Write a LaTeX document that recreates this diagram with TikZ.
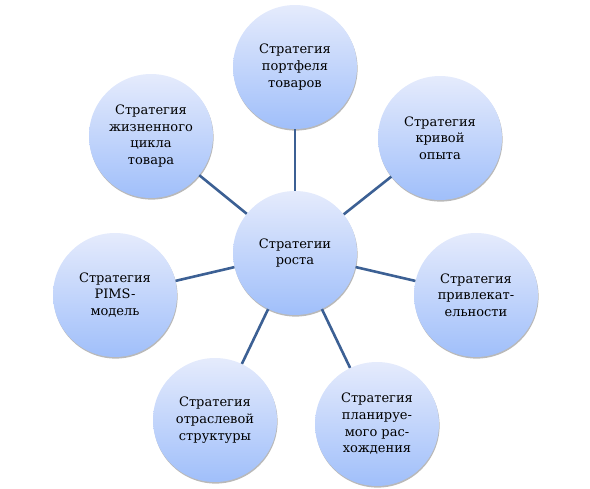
\documentclass[tikz,border=0pt]{standalone}
\usepackage{fontspec}
\setmainfont{DejaVu Serif}
\usetikzlibrary{shadows,positioning}
\definecolor{spokeblue}{RGB}{60,96,148}
\definecolor{balltop}{RGB}{229,235,252}
\definecolor{ballbottom}{RGB}{160,191,250}
\tikzset{
%Define style for the circles
ball/.style={circle, minimum size=124pt, inner sep=0pt, align=center,
  top color=balltop, bottom color=ballbottom,
  general shadow={fill=black!50, shadow yshift=-1.6pt, shadow xshift=0.6pt, opacity=0.55},
  font=\fontsize{13}{16.7}\selectfont},
%Define style for the connecting lines
spoke/.style={spokeblue, line width=2.6pt},
}

\begin{document}
\begin{tikzpicture}[x=1pt, y=-1pt]
    \useasboundingbox (0,0) rectangle (590,489);
    %Centres of the circles (picture coordinates, y downwards)
    \coordinate (cgrowth) at (295,253);
    \coordinate (cportfolio) at (295,67);
    \coordinate (ccurve) at (440,138);
    \coordinate (cattract) at (476,295);
    \coordinate (cdiverge) at (377,424);
    \coordinate (cindustry) at (215,420);
    \coordinate (cpims) at (115,295);
    \coordinate (clife) at (151,136);

    %The circles
    \node[ball] (growth) at (cgrowth) {Стратегии\\роста};
    \node[ball] (portfolio) at (cportfolio) {Стратегия\\портфеля\\товаров};
    \node[ball] (curve) at (ccurve) {Стратегия\\кривой\\опыта};
    \node[ball] (attract) at (cattract) {Стратегия\\привлекат-\\ельности};
    \node[ball] (diverge) at (cdiverge) {Стратегия\\планируе-\\мого рас-\\хождения};
    \node[ball] (industry) at (cindustry) {Стратегия\\отраслевой\\структуры};
    \node[ball] (pims) at (cpims) {Стратегия\\PIMS-\\модель};
    \node[ball] (life) at (clife) {Стратегия\\жизненного\\цикла\\товара};

    %Lines from the centre to every outer circle
    \foreach \n in {portfolio,curve,attract,diverge,industry,pims,life}
      \draw[spoke] (growth) -- (\n);
\end{tikzpicture}
\end{document}
